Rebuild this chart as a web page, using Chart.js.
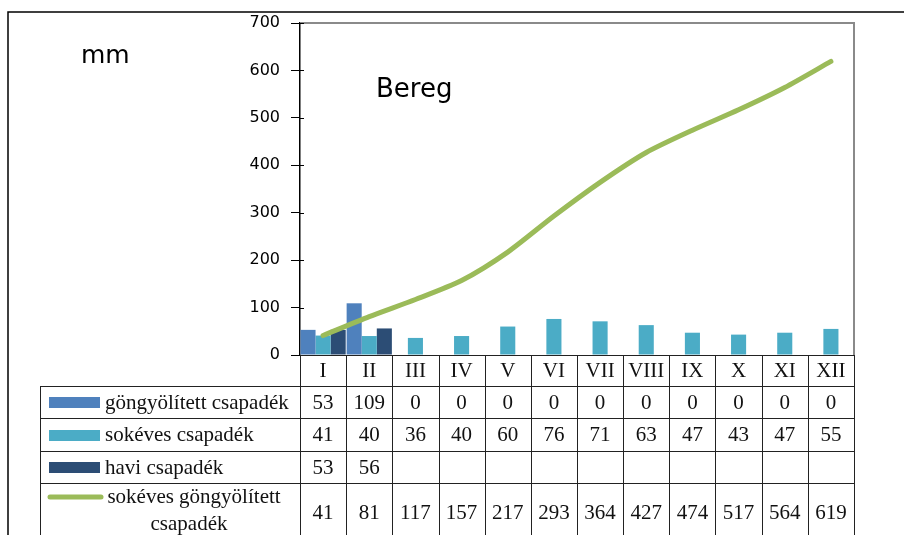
<!DOCTYPE html>
<html>
<head>
<meta charset="utf-8">
<script src="https://cdn.jsdelivr.net/npm/chart.js@4.4.0/dist/chart.umd.min.js"></script>
<style>
  body { margin: 0; background: #fff; }
  #grafikon { display: block; }
</style>
</head>
<body>
<canvas id="grafikon" width="904" height="535"></canvas>
<script>
// Adatok (mm)
const honapok = ['I', 'II', 'III', 'IV', 'V', 'VI', 'VII', 'VIII', 'IX', 'X', 'XI', 'XII'];
const gongyolitett = [53, 109, 0, 0, 0, 0, 0, 0, 0, 0, 0, 0];
const sokeves = [41, 40, 36, 40, 60, 76, 71, 63, 47, 43, 47, 55];
const havi = [53, 56, null, null, null, null, null, null, null, null, null, null];
const sokevesGongyolitett = [41, 81, 117, 157, 217, 293, 364, 427, 474, 517, 564, 619];

const sorNevek = ['göngyölített csapadék', 'sokéves csapadék', 'havi csapadék', 'sokéves göngyölített|csapadék'];
const sorAdatok = [gongyolitett, sokeves, havi, sokevesGongyolitett];
const szinek = ['#4F81BD', '#4BACC6', '#2C4D75', '#9BBB59'];

const tablaSorok = [355, 386, 418, 451, 483, 540]; // sorhatárok
const tablaBal = 40;

// Táblázat, keret és feliratok rajzolása
const tablaPlugin = {
    id: 'tabla',
    afterDraw(chart) {
        const ctx = chart.ctx;
        const xs = chart.scales.x;
        const ys = chart.scales.y;
        const area = chart.chartArea;
        const colW = xs.getPixelForValue(1) - xs.getPixelForValue(0);

        ctx.save();
        // külső keret
        ctx.strokeStyle = '#000';
        ctx.lineWidth = 1.5;
        ctx.beginPath();
        ctx.moveTo(8, 535); ctx.lineTo(8, 12); ctx.lineTo(904, 12);
        ctx.stroke();

        // rajzterület szürke kerete
        ctx.strokeStyle = '#8a8a8a';
        ctx.lineWidth = 2;
        ctx.beginPath();
        ctx.moveTo(area.left, area.top); ctx.lineTo(area.right, area.top); ctx.lineTo(area.right, area.bottom);
        ctx.stroke();

        // belső osztásjelek
        ctx.strokeStyle = '#000';
        ctx.lineWidth = 1;
        ys.ticks.forEach(t => {
            const y = Math.round(ys.getPixelForValue(t.value)) + 0.5;
            ctx.beginPath(); ctx.moveTo(area.left, y); ctx.lineTo(area.left + 4, y); ctx.stroke();
        });

        // feliratok
        ctx.fillStyle = '#000';
        ctx.textAlign = 'left';
        ctx.textBaseline = 'alphabetic';
        ctx.font = '25px "DejaVu Sans"';
        ctx.fillText('mm', 81, 63);
        ctx.font = '26px "DejaVu Sans"';
        ctx.fillText('Bereg', 376, 97);

        // táblázat vonalai
        ctx.strokeStyle = '#222';
        ctx.lineWidth = 1;
        ctx.beginPath();
        ctx.moveTo(area.left, tablaSorok[0] + 0.5); ctx.lineTo(area.right, tablaSorok[0] + 0.5);
        for (let r = 1; r < tablaSorok.length - 1; r++) {
            ctx.moveTo(tablaBal, tablaSorok[r] + 0.5); ctx.lineTo(area.right, tablaSorok[r] + 0.5);
        }
        ctx.moveTo(tablaBal + 0.5, tablaSorok[1]); ctx.lineTo(tablaBal + 0.5, 535);
        for (let i = 0; i <= honapok.length; i++) {
            const x = Math.round(xs.getPixelForValue(i) - colW / 2) + 0.5;
            ctx.moveTo(x, tablaSorok[0]); ctx.lineTo(x, 535);
        }
        ctx.stroke();

        // fejléc: hónapok
        ctx.font = '21px "Liberation Serif"';
        ctx.fillStyle = '#111';
        ctx.textAlign = 'center';
        ctx.textBaseline = 'middle';
        honapok.forEach((h, i) => {
            ctx.fillText(h, xs.getPixelForValue(i), (tablaSorok[0] + tablaSorok[1]) / 2 + 1);
        });

        // sorok
        sorAdatok.forEach((adat, r) => {
            const yTop = tablaSorok[r + 1];
            const yBot = r === 3 ? 540 : tablaSorok[r + 2];
            const yMid = r === 3 ? 513 : (yTop + yBot) / 2 + 1;
            // jelmagyarázat
            if (r === 3) {
                ctx.strokeStyle = szinek[r];
                ctx.lineWidth = 5;
                ctx.lineCap = 'round';
                ctx.beginPath(); ctx.moveTo(50, 497); ctx.lineTo(101, 497); ctx.stroke();
            } else {
                ctx.fillStyle = szinek[r];
                ctx.fillRect(49, Math.round(yMid) - 6, 51, 11);
            }
            ctx.fillStyle = '#111';
            const nev = sorNevek[r].split('|');
            if (nev.length === 1) {
                ctx.textAlign = 'left';
                ctx.fillText(nev[0], 105, yMid);
            } else {
                ctx.textAlign = 'center';
                ctx.fillText(nev[0], 194, 497);
                ctx.fillText(nev[1], 189, 524);
            }
            ctx.textAlign = 'center';
            adat.forEach((v, i) => {
                if (v !== null) ctx.fillText(String(v), xs.getPixelForValue(i), yMid);
            });
        });
        ctx.restore();
    }
};

const ctx = document.getElementById('grafikon').getContext('2d');
const grafikon = new Chart(ctx, {
    type: 'bar',
    data: {
        labels: honapok,
        datasets: [
            {
                type: 'line',
                label: 'sokéves göngyölített csapadék',
                data: sokevesGongyolitett,
                borderColor: '#9BBB59',
                borderWidth: 5,
                borderCapStyle: 'round',
                pointRadius: 0,
                tension: 0.25,
                order: 0
            },
            { label: 'göngyölített csapadék', data: gongyolitett, backgroundColor: '#4F81BD', order: 1 },
            { label: 'sokéves csapadék', data: sokeves, backgroundColor: '#4BACC6', order: 2 },
            { label: 'havi csapadék', data: havi, backgroundColor: '#2C4D75', order: 3 }
        ]
    },
    options: {
        responsive: false,
        animation: false,
        categoryPercentage: 0.98,
        barPercentage: 1,
        layout: { padding: { left: 0, top: 23, right: 50, bottom: 180 } },
        plugins: {
            legend: { display: false },
            tooltip: { enabled: false }
        },
        scales: {
            x: { display: false },
            y: {
                min: 0,
                max: 700,
                ticks: {
                    stepSize: 100,
                    color: '#000',
                    padding: 11,
                    font: { family: 'DejaVu Sans', size: 16 }
                },
                grid: { drawOnChartArea: false, tickLength: 9, color: '#000' },
                border: { color: '#000', width: 1.5 },
                afterFit(scale) { scale.width = 300; }
            }
        }
    },
    plugins: [tablaPlugin]
});
</script>
</body>
</html>
